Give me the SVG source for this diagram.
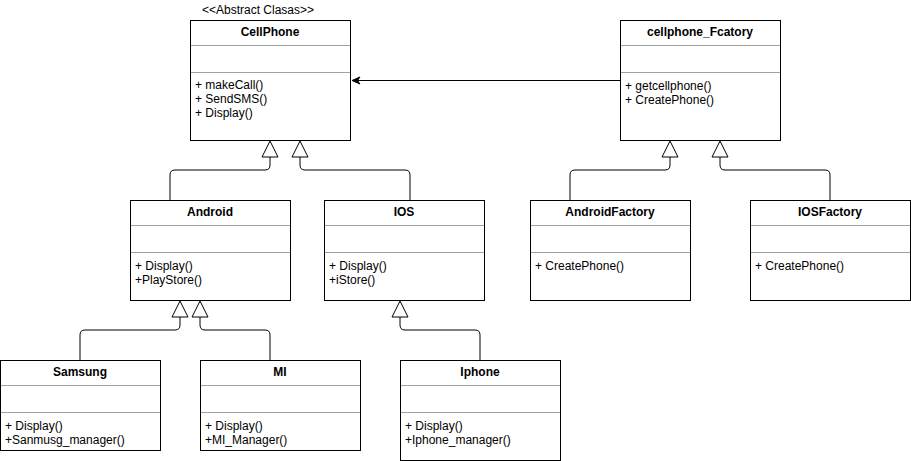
<svg xmlns="http://www.w3.org/2000/svg" width="911" height="461" viewBox="0 0 911 461">
<defs>
<style>
.box{fill:#fff;stroke:#000;stroke-width:1}
.div{stroke:#a0a0a0;stroke-width:1}
.t{font-family:"Liberation Sans",Arial,sans-serif;font-size:12px;fill:#000}
.h{font-weight:bold;text-anchor:middle}
.e{fill:none;stroke:#000;stroke-width:1}
.tri{fill:#fff;stroke:#000;stroke-width:1}
</style>
<marker id="arr" viewBox="0 0 10 10" refX="9" refY="5" markerWidth="10" markerHeight="10" markerUnits="userSpaceOnUse" orient="auto">
<path d="M9,5 L1,1.5 L3.5,5 L1,8.5 Z" fill="#000" stroke="#000" stroke-width="1"/>
</marker>
</defs>
<rect width="911" height="461" fill="#fff"/>
<text class="t" x="202" y="14">&lt;&lt;Abstract Clasas&gt;&gt;</text>

<g id="CellPhone">
<rect class="box" x="190.5" y="20.5" width="160" height="120"/>
<line class="div" x1="191" y1="45.5" x2="350" y2="45.5"/>
<line class="div" x1="191" y1="72.5" x2="350" y2="72.5"/>
<text class="t h" x="270" y="36">CellPhone</text>
<text class="t" x="195" y="89">+ makeCall()</text>
<text class="t" x="195" y="103">+ SendSMS()</text>
<text class="t" x="195" y="117">+ Display()</text>
</g>

<g id="cellphone_Fcatory">
<rect class="box" x="620.5" y="20.5" width="160" height="120"/>
<line class="div" x1="621" y1="45.5" x2="780" y2="45.5"/>
<line class="div" x1="621" y1="72.5" x2="780" y2="72.5"/>
<text class="t h" x="700" y="36">cellphone_Fcatory</text>
<text class="t" x="625" y="90">+ getcellphone()</text>
<text class="t" x="625" y="104">+ CreatePhone()</text>
</g>

<g id="Android">
<rect class="box" x="130.5" y="200.5" width="160" height="100"/>
<line class="div" x1="131" y1="225.5" x2="290" y2="225.5"/>
<line class="div" x1="131" y1="252.5" x2="290" y2="252.5"/>
<text class="t h" x="210" y="216">Android</text>
<text class="t" x="135" y="270">+ Display()</text>
<text class="t" x="135" y="284">+PlayStore()</text>
</g>

<g id="IOS">
<rect class="box" x="324.5" y="200.5" width="160" height="100"/>
<line class="div" x1="325" y1="225.5" x2="484" y2="225.5"/>
<line class="div" x1="325" y1="252.5" x2="484" y2="252.5"/>
<text class="t h" x="404" y="216">IOS</text>
<text class="t" x="329" y="270">+ Display()</text>
<text class="t" x="329" y="284">+iStore()</text>
</g>

<g id="AndroidFactory">
<rect class="box" x="530.5" y="200.5" width="160" height="100"/>
<line class="div" x1="531" y1="225.5" x2="690" y2="225.5"/>
<line class="div" x1="531" y1="252.5" x2="690" y2="252.5"/>
<text class="t h" x="610" y="216">AndroidFactory</text>
<text class="t" x="535" y="270">+ CreatePhone()</text>
</g>

<g id="IOSFactory">
<rect class="box" x="750.5" y="200.5" width="160" height="100"/>
<line class="div" x1="751" y1="225.5" x2="910" y2="225.5"/>
<line class="div" x1="751" y1="252.5" x2="910" y2="252.5"/>
<text class="t h" x="830" y="216">IOSFactory</text>
<text class="t" x="755" y="270">+ CreatePhone()</text>
</g>

<g id="Samsung">
<rect class="box" x="0.5" y="360.5" width="160" height="90"/>
<line class="div" x1="1" y1="385.5" x2="160" y2="385.5"/>
<line class="div" x1="1" y1="412.5" x2="160" y2="412.5"/>
<text class="t h" x="80" y="376">Samsung</text>
<text class="t" x="5" y="430">+ Display()</text>
<text class="t" x="5" y="444">+Sanmusg_manager()</text>
</g>

<g id="MI">
<rect class="box" x="200.5" y="360.5" width="160" height="90"/>
<line class="div" x1="201" y1="385.5" x2="360" y2="385.5"/>
<line class="div" x1="201" y1="412.5" x2="360" y2="412.5"/>
<text class="t h" x="280" y="376">MI</text>
<text class="t" x="205" y="430">+ Display()</text>
<text class="t" x="205" y="444">+MI_Manager()</text>
</g>

<g id="Iphone">
<rect class="box" x="400.5" y="360.5" width="160" height="100"/>
<line class="div" x1="401" y1="385.5" x2="560" y2="385.5"/>
<line class="div" x1="401" y1="412.5" x2="560" y2="412.5"/>
<text class="t h" x="480" y="376">Iphone</text>
<text class="t" x="405" y="430">+ Display()</text>
<text class="t" x="405" y="444">+Iphone_manager()</text>
</g>

<g id="connectors">
<line class="e" x1="620" y1="80.5" x2="352" y2="80.5" marker-end="url(#arr)"/>
<path class="e" d="M270,157 V165 Q270,170 265,170 H175 Q170,170 170,175 V200"/>
<path class="tri" d="M270,141 L278,157 L262,157 Z"/>
<path class="e" d="M300,157 V165 Q300,170 305,170 H405 Q410,170 410,175 V200"/>
<path class="tri" d="M300,141 L308,157 L292,157 Z"/>
<path class="e" d="M670,157 V165 Q670,170 665,170 H575 Q570,170 570,175 V200"/>
<path class="tri" d="M670,141 L678,157 L662,157 Z"/>
<path class="e" d="M720,157 V165 Q720,170 725,170 H825 Q830,170 830,175 V200"/>
<path class="tri" d="M720,141 L728,157 L712,157 Z"/>
<path class="e" d="M180,317 V325 Q180,330 175,330 H85 Q80,330 80,335 V360"/>
<path class="tri" d="M180,301 L188,317 L172,317 Z"/>
<path class="e" d="M200,317 V325 Q200,330 205,330 H265 Q270,330 270,335 V360"/>
<path class="tri" d="M200,301 L208,317 L192,317 Z"/>
<path class="e" d="M400,317 V325 Q400,330 405,330 H475 Q480,330 480,335 V360"/>
<path class="tri" d="M400,301 L408,317 L392,317 Z"/>
</g>
</svg>
